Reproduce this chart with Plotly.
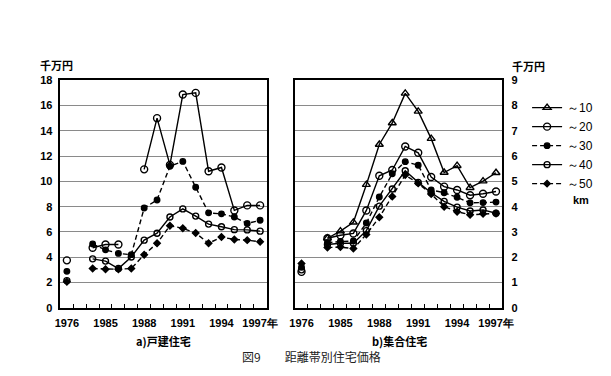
import plotly.graph_objects as go

# categorical x slots (second slot is the axis break between 1976 and 1984)
years = ["1976", "gap", "1984", "1985", "1986", "1987", "1988", "1989", "1990",
         "1991", "1992", "1993", "1994", "1995", "1996", "1997"]
tick_text = ["1976", "", "", "1985", "", "", "1988", "", "", "1991", "", "",
             "1994", "", "", "1997年"]

# a) 戸建住宅 (left panel, 千万円)
a_20 = [3.75, None, 4.75, 5.0, 5.0, None, 10.95, 15.0, 11.3, 16.87, 17.0, 10.8, 11.1, 7.7, 8.1, 8.1]
a_30 = [2.88, None, 5.05, 4.58, 4.3, 4.2, 7.89, 8.53, 11.2, 11.58, 9.54, 7.51, 7.43, 7.18, 6.67, 6.92]
a_40 = [2.15, None, 3.87, 3.69, 3.1, 4.02, 5.35, 5.9, 7.18, 7.82, 7.25, 6.62, 6.41, 6.18, 6.16, 6.06]
a_50 = [2.05, None, 3.1, 3.05, 3.05, 3.1, 4.2, 5.1, 6.49, 6.29, 5.91, 5.1, 5.6, 5.4, 5.35, 5.22]

# b) 集合住宅 (right panel, 千万円)
b_10 = [None, None, 2.75, 3.03, 3.38, 4.87, 6.46, 7.31, 8.48, 7.77, 6.69, 5.35, 5.62, 4.75, 5.01, 5.34]
b_20 = [1.42, None, 2.75, 2.87, 2.94, 3.85, 5.22, 5.45, 6.38, 6.13, 5.17, 4.79, 4.66, 4.45, 4.51, 4.6]
b_30 = [1.6, None, 2.57, 2.62, 2.64, 3.35, 4.38, 5.3, 5.78, 5.64, 4.66, 4.55, 4.37, 4.15, 4.16, 4.18]
b_40 = [1.5, None, 2.5, 2.55, 2.55, 3.05, 4.02, 4.7, 5.42, 4.96, 4.55, 4.21, 3.98, 3.83, 3.87, 3.74]
b_50 = [1.75, None, 2.38, 2.4, 2.34, 2.9, 3.58, 4.4, 5.25, 4.92, 4.5, 4.0, 3.8, 3.68, 3.72, 3.73]

legend_names = ["～10", "～20", "～30", "～40", "～50"]

styles = {
    "～10": dict(symbol="triangle-up-open", size=7, dash="solid"),
    "～20": dict(symbol="circle-open", size=7, dash="solid"),
    "～30": dict(symbol="circle", size=5.5, dash="5px,3px"),
    "～40": dict(symbol="circle-open", size=6, dash="solid"),
    "～50": dict(symbol="diamond", size=5, dash="5px,3px"),
}

fig = go.Figure()

def add(vals, name, xa, ya, show):
    st = styles[name]
    fig.add_trace(go.Scatter(
        x=years, y=vals, name=name, xaxis=xa, yaxis=ya, mode="lines+markers",
        connectgaps=False, showlegend=show,
        line=dict(color="black", width=1.4, dash=st["dash"]),
        marker=dict(symbol=st["symbol"], size=st["size"], color="black",
                    line=dict(color="black", width=1.4)),
    ))

for vals, name in [(a_20, "～20"), (a_30, "～30"), (a_40, "～40"), (a_50, "～50")]:
    add(vals, name, "x", "y", False)
for vals, name in zip([b_10, b_20, b_30, b_40, b_50], legend_names):
    add(vals, name, "x2", "y2", True)

W, H = 611, 376
def px(v): return v / W
def py(v): return 1 - v / H

tickfont = dict(family="Liberation Sans", size=11, color="black", weight="bold")
xcommon = dict(type="category", categoryorder="array", categoryarray=years,
               tickvals=years, ticktext=tick_text, tickson="boundaries",
               ticks="inside", ticklen=4, tickcolor="black", showgrid=False,
               showline=True, linecolor="black", linewidth=1.5, mirror=True,
               tickfont=tickfont, zeroline=False, ticklabelstandoff=4,
               tickangle=0, range=[-0.5, 15.5])
ycommon = dict(showgrid=True, gridcolor="#8a8a8a", gridwidth=1, ticks="",
               showline=True, linecolor="black", linewidth=1.5, mirror=True,
               tickfont=tickfont, zeroline=False)

fig.update_layout(
    width=W, height=H, margin=dict(l=0, r=0, t=0, b=0),
    paper_bgcolor="white", plot_bgcolor="white",
    xaxis=dict(domain=[px(56), px(268)], anchor="y", **xcommon),
    yaxis=dict(domain=[py(311.7), py(76.7)], anchor="x", range=[0, 18],
               tickvals=list(range(0, 19, 2)), ticklabelstandoff=4, **ycommon),
    xaxis2=dict(domain=[px(297.3), px(510.7)], anchor="y2", **xcommon),
    yaxis2=dict(domain=[py(311.7), py(76.7)], anchor="x2", range=[0, 9],
                side="right", tickvals=list(range(0, 10)), ticklabelstandoff=5,
                **ycommon),
    legend=dict(x=px(536), y=py(90), xanchor="left", yanchor="top",
                font=dict(family="Liberation Sans", size=12, color="black"),
                bgcolor="rgba(0,0,0,0)", tracegroupgap=0, itemwidth=30),
    showlegend=True,
)

cjk = "Noto Sans CJK JP"
ann = [
    dict(text="千万円", x=px(33), y=py(61), xanchor="left", yanchor="middle",
         font=dict(family=cjk, size=11, color="black", weight="bold")),
    dict(text="千万円", x=px(518), y=py(62), xanchor="left", yanchor="middle",
         font=dict(family=cjk, size=11, color="black", weight="bold")),
    dict(text="km", x=px(591), y=py(200), xanchor="center", yanchor="middle",
         font=dict(family="Liberation Sans", size=11, color="black", weight="bold")),
    dict(text="a)戸建住宅", x=px(162), y=py(346), xanchor="center", yanchor="middle",
         font=dict(family=cjk, size=11, color="black", weight="bold")),
    dict(text="b)集合住宅", x=px(405), y=py(346), xanchor="center", yanchor="middle",
         font=dict(family=cjk, size=11, color="black", weight="bold")),
    dict(text="図9　　距離帯別住宅価格", x=px(314), y=py(362), xanchor="center",
         yanchor="middle", font=dict(family=cjk, size=12, color="#222")),
]
for a in ann:
    a.update(xref="paper", yref="paper", showarrow=False)
fig.update_layout(annotations=ann)

fig.write_html("out.html")
